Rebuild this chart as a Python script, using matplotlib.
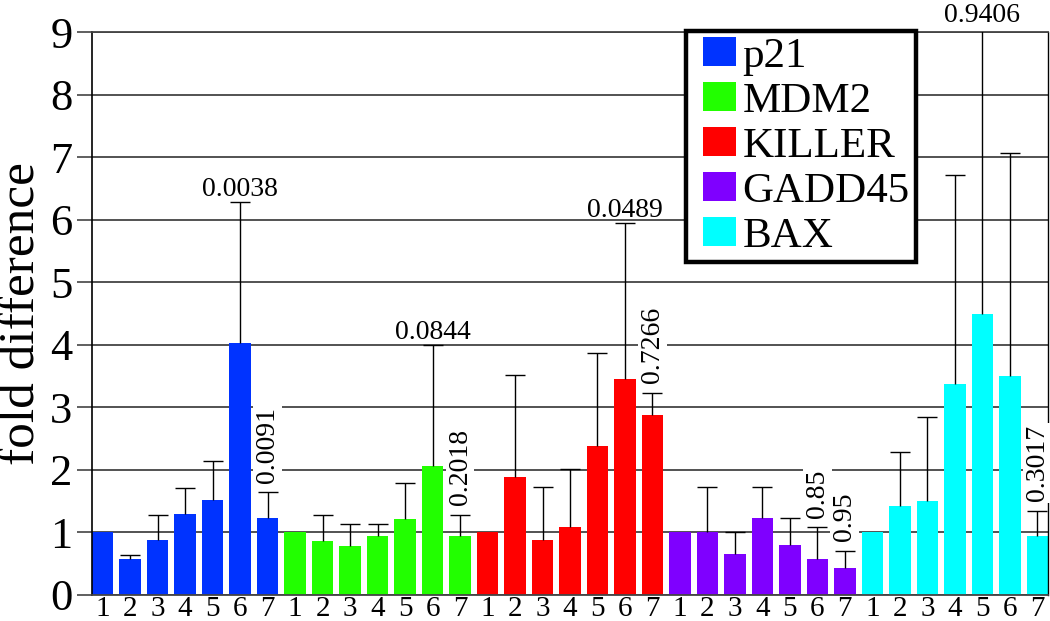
import numpy as np
import matplotlib
matplotlib.use('Agg')
import matplotlib.pyplot as plt
from matplotlib.patches import Patch, Rectangle
from matplotlib.legend_handler import HandlerPatch

plt.rcParams['font.family'] = ['Liberation Serif', 'DejaVu Serif']

genes = ['p21', 'MDM2', 'KILLER', 'GADD45', 'BAX']
colors = ['#0033ff', '#22ff00', '#ff0000', '#7f00ff', '#00ffff']
sample_labels = ['1', '2', '3', '4', '5', '6', '7']

# bar heights (fold difference) per gene, samples 1..7
p21 = [1.0, 0.58, 0.88, 1.29, 1.52, 4.03, 1.23]
mdm2 = [1.0, 0.86, 0.79, 0.94, 1.22, 2.07, 0.94]
killer = [1.0, 1.88, 0.88, 1.08, 2.38, 3.46, 2.87]
gadd45 = [1.0, 1.0, 0.65, 1.23, 0.80, 0.57, 0.43]
bax = [1.0, 1.43, 1.50, 3.37, 4.50, 3.50, 0.94]

# top of the error bar (nan = no error bar)
p21_top = [np.nan, 0.64, 1.28, 1.71, 2.15, 6.29, 1.64]
mdm2_top = [np.nan, 1.28, 1.14, 1.14, 1.79, 4.00, 1.28]
killer_top = [np.nan, 3.51, 1.73, 2.01, 3.87, 5.95, 3.23]
gadd45_top = [np.nan, 1.73, 1.00, 1.73, 1.23, 1.08, 0.71]
bax_top = [np.nan, 2.29, 2.85, 6.71, 9.07, 7.07, 1.35]

# p-value labels: (gene, sample index, text, rotated)
pvals = [
    (0, 5, '0.0038', False),
    (0, 6, '0.0091', True),
    (1, 5, '0.0844', False),
    (1, 6, '0.2018', True),
    (2, 5, '0.0489', False),
    (2, 6, '0.7266', True),
    (3, 5, '0.85', True),
    (3, 6, '0.95', True),
    (4, 4, '0.9406', False),
    (4, 6, '0.3017', True),
]

values = [p21, mdm2, killer, gadd45, bax]
tops = [p21_top, mdm2_top, killer_top, gadd45_top, bax_top]

fig = plt.figure(figsize=(10.5, 6.21), dpi=100)
ax = fig.add_axes([92/1050, 1 - 595/621, 956/1050, 563/621])

width = 0.78
n = len(sample_labels)
xticks = []
xlabels = []
for g, (vals, top) in enumerate(zip(values, tops)):
    x = np.arange(n) + g * n
    vals = np.array(vals)
    top = np.array(top)
    ax.bar(x, vals, width=width, color=colors[g], zorder=2)
    # upper error bars only
    m = ~np.isnan(top)
    ax.vlines(x[m], vals[m], top[m], color='black', linewidth=1.0, zorder=3)
    ax.plot(x[m], top[m], linestyle='none', marker='_', markersize=15,
            markeredgewidth=1.0, color='black', zorder=3)
    xticks += list(x)
    xlabels += sample_labels

for g, i, txt, rot in pvals:
    xx = g * n + i
    yy = tops[g][i]
    if rot:
        ax.annotate(txt, (xx, yy), xytext=(0, 7), textcoords='offset points',
                    ha='center', va='bottom', rotation=90, fontsize=20,
                    bbox=dict(facecolor='white', edgecolor='none', pad=1.5),
                    zorder=4, annotation_clip=False)
    else:
        ax.annotate(txt, (xx, yy), xytext=(0, 4), textcoords='offset points',
                    ha='center', va='baseline', fontsize=20, zorder=4,
                    annotation_clip=False)

ax.set_xlim(-width/2, 5*n - 1 + width/2)
ax.set_ylim(0, 9)
ax.set_yticks(range(10))
ax.set_xticks(xticks)
ax.set_xticklabels(xlabels, fontsize=21)
ax.tick_params(axis='x', length=0, pad=1)
ax.tick_params(axis='y', labelsize=32, length=11, width=1.2, color='#444444', pad=3)

ax.set_axisbelow(True)
ax.yaxis.grid(True, color='#444444', linewidth=1.3)
ax.spines['top'].set_color('#444444')
ax.spines['top'].set_linewidth(1.3)
ax.spines['bottom'].set_color('#444444')
ax.spines['bottom'].set_linewidth(1.3)
ax.spines['left'].set_linewidth(1.2)
ax.spines['right'].set_linewidth(1.0)

fig.text(22/1050, 1 - 314/621, 'fold difference', rotation=90, ha='center',
         va='center', fontsize=37)


def square(legend, orig_handle, xdescent, ydescent, width, height, fontsize):
    # colour square inset from the left of the handle box
    inset = 0.24 * width
    return Rectangle((-xdescent + inset, -ydescent), width - inset, height)


handles = [Patch(facecolor=c, edgecolor='none') for c in colors]
leg = ax.legend(handles, genes, loc='upper left', bbox_to_anchor=(686/1050, 1 - 31/621),
                bbox_transform=fig.transFigure, fontsize=31, frameon=True,
                fancybox=False, framealpha=1, edgecolor='black',
                handlelength=1.0, handleheight=0.65, handletextpad=0.16,
                labelspacing=0.15, borderpad=0.15, borderaxespad=0,
                handler_map={Patch: HandlerPatch(patch_func=square)})
leg.get_frame().set_linewidth(3.2)
leg.set_zorder(5)

fig.savefig('out.png', dpi=100)
